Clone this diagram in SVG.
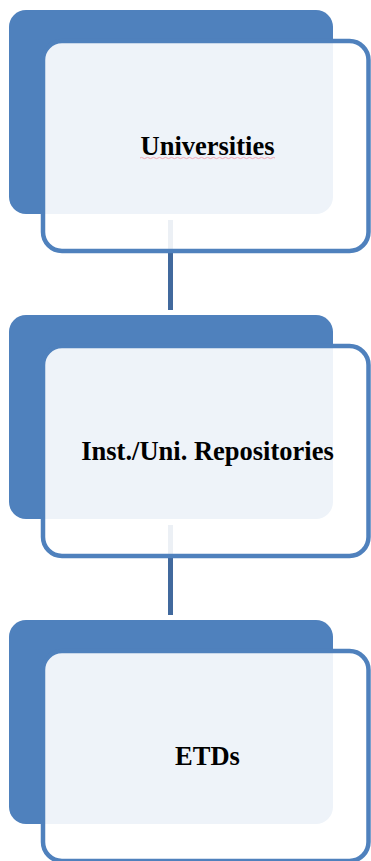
<svg xmlns="http://www.w3.org/2000/svg" width="371" height="861" viewBox="0 0 371 861">
  <style>
    .back { fill: #4F81BD; }
    .front { fill: #FFFFFF; fill-opacity: 0.9; stroke: #4F81BD; stroke-width: 4.5; }
    .link { stroke: #41699D; stroke-width: 5; fill: none; }
    .label { font-family: "Liberation Serif", "Times New Roman", serif; font-weight: bold; font-size: 26.5px; fill: #000000; text-anchor: middle; }
    .spell { fill: none; stroke: #F2A7B4; stroke-width: 1; }
  </style>
  <defs>
    <rect id="backCard" class="back" x="9" y="10" width="324" height="204" rx="17" ry="17"/>
    <rect id="frontCard" class="front" x="43" y="41" width="325.5" height="210" rx="19" ry="19"/>
  </defs>

  <!-- connectors (drawn first so the cards sit over their ends) -->
  <g id="connectors">
    <line class="link" x1="170.5" y1="220" x2="170.5" y2="310"/>
    <line class="link" x1="170.5" y1="525" x2="170.5" y2="615"/>
  </g>

  <g id="node-universities">
    <use href="#backCard"/>
    <use href="#frontCard"/>
    <text class="label" x="207.5" y="155">Universities</text>
    <path class="spell" d="M140 158 q1.5 -1.2 3 0 t3 0 t3 0 t3 0 t3 0 t3 0 t3 0 t3 0 t3 0 t3 0 t3 0 t3 0 t3 0 t3 0 t3 0 t3 0 t3 0 t3 0 t3 0 t3 0 t3 0 t3 0 t3 0 t3 0 t3 0 t3 0 t3 0 t3 0 t3 0 t3 0 t3 0 t3 0 t3 0 t3 0 t3 0 t3 0 t3 0 t3 0 t3 0 t3 0 t3 0 t3 0 t3 0 t3 0 t3 0"/>
  </g>

  <g id="node-repositories" transform="translate(0,305)">
    <use href="#backCard"/>
    <use href="#frontCard"/>
    <text class="label" x="207.5" y="155">Inst./Uni. Repositories</text>
  </g>

  <g id="node-etds" transform="translate(0,610)">
    <use href="#backCard"/>
    <use href="#frontCard"/>
    <text class="label" x="207.5" y="155">ETDs</text>
  </g>
</svg>
